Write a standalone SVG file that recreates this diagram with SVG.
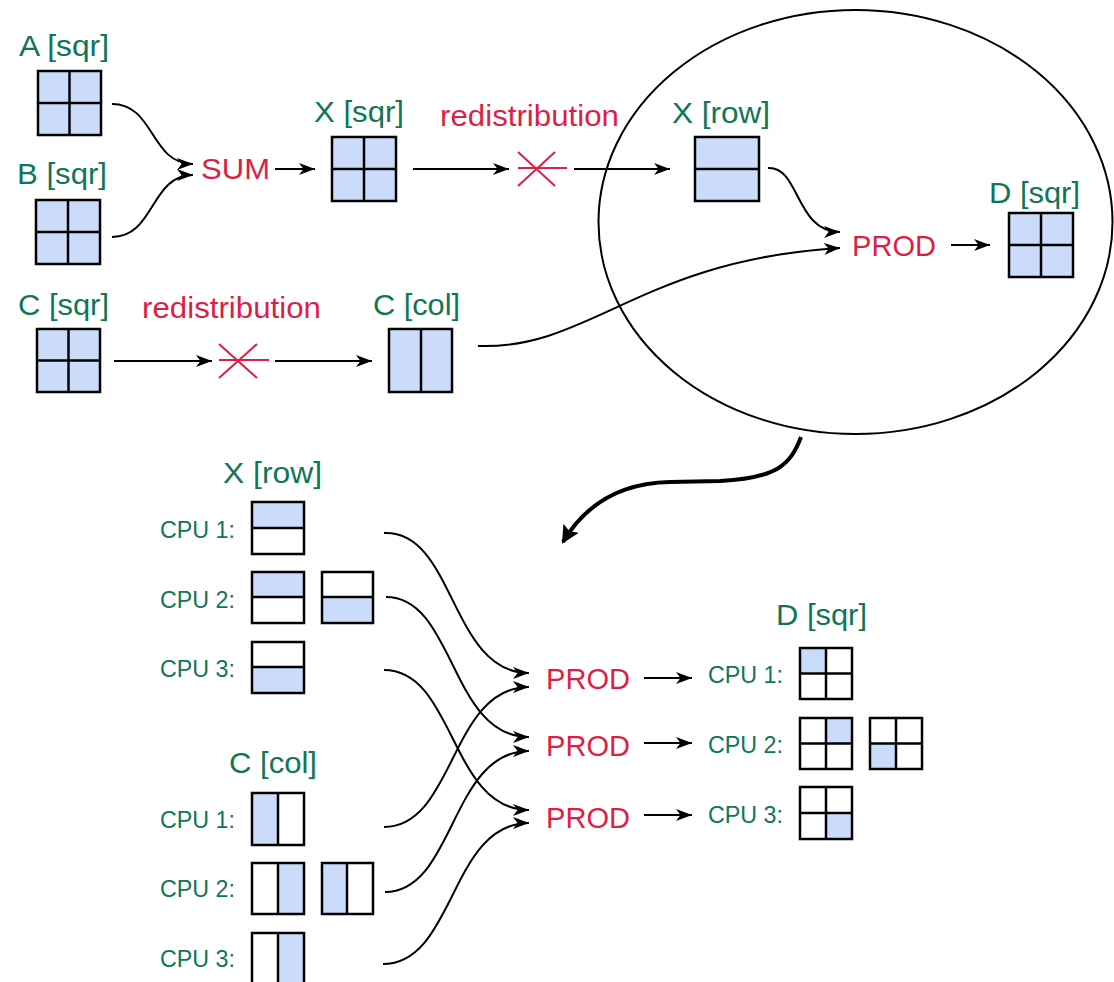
<svg xmlns="http://www.w3.org/2000/svg" width="1114" height="982" viewBox="0 0 1114 982">
  <style>
    .lbl { font-family: "Liberation Sans", Arial, sans-serif; font-size: 30px; fill: #0f7656; text-anchor: middle; }
    .op { font-family: "Liberation Sans", Arial, sans-serif; font-size: 30px; fill: #dc1f45; text-anchor: middle; }
    .cpu { font-family: "Liberation Sans", Arial, sans-serif; font-size: 23.5px; fill: #0f7656; }
    .box { fill: none; stroke: #000; stroke-width: 2.5; }
    .blue { fill: #cbdcfa; }
    .div { stroke: #000; stroke-width: 2.5; }
    .conn { fill: none; stroke: #000; stroke-width: 2; }
    .cross { stroke: #dc1f45; stroke-width: 2; }
  </style>
  <defs>
    <marker id="arr" markerUnits="userSpaceOnUse" markerWidth="18" markerHeight="14" refX="16" refY="6" orient="auto">
      <path d="M0,0 L16,6 L0,12 L4.5,6 z" fill="#000"/>
    </marker>
    <marker id="bigarr" markerUnits="userSpaceOnUse" markerWidth="20" markerHeight="20" refX="16" refY="9" orient="auto">
      <path d="M0,0 L18,9 L0,18 L3.5,9 z" fill="#000"/>
    </marker>
  </defs>

  <!-- scope of the PROD step -->
  <ellipse id="scope" cx="855.5" cy="222" rx="257" ry="212" fill="none" stroke="#000" stroke-width="2"/>

  <!-- A [sqr] -->
  <g id="A-sqr">
    <text class="lbl" x="64" y="56" textLength="90" lengthAdjust="spacingAndGlyphs">A [sqr]</text>
    <rect class="blue" x="38" y="71" width="63" height="64"/>
    <line class="div" x1="69.5" y1="71" x2="69.5" y2="135"/>
    <line class="div" x1="38" y1="103" x2="101" y2="103"/>
    <rect class="box" x="38" y="71" width="63" height="64"/>
  </g>

  <!-- B [sqr] -->
  <g id="B-sqr">
    <text class="lbl" x="62" y="184" textLength="90" lengthAdjust="spacingAndGlyphs">B [sqr]</text>
    <rect class="blue" x="36" y="200" width="64" height="64"/>
    <line class="div" x1="68" y1="200" x2="68" y2="264"/>
    <line class="div" x1="36" y1="232" x2="100" y2="232"/>
    <rect class="box" x="36" y="200" width="64" height="64"/>
  </g>

  <!-- SUM -->
  <g id="sum">
    <text class="op" x="235.5" y="179" textLength="69" lengthAdjust="spacingAndGlyphs">SUM</text>
  </g>

  <!-- X [sqr] -->
  <g id="X-sqr">
    <text class="lbl" x="359" y="122" textLength="90" lengthAdjust="spacingAndGlyphs">X [sqr]</text>
    <rect class="blue" x="332" y="137" width="64" height="64"/>
    <line class="div" x1="364" y1="137" x2="364" y2="201"/>
    <line class="div" x1="332" y1="169" x2="396" y2="169"/>
    <rect class="box" x="332" y="137" width="64" height="64"/>
  </g>

  <!-- redistribution X -->
  <g id="redist-x">
    <text class="op" x="529.5" y="126" textLength="179" lengthAdjust="spacingAndGlyphs">redistribution</text>
    <line class="cross" x1="518" y1="168" x2="567" y2="168"/>
    <line class="cross" x1="518" y1="152" x2="555" y2="186"/>
    <line class="cross" x1="555" y1="152" x2="518" y2="186"/>
  </g>

  <!-- X [row] -->
  <g id="X-row">
    <text class="lbl" x="721" y="123" textLength="98" lengthAdjust="spacingAndGlyphs">X [row]</text>
    <rect class="blue" x="695" y="137" width="64" height="64"/>
    <line class="div" x1="695" y1="169" x2="759" y2="169"/>
    <rect class="box" x="695" y="137" width="64" height="64"/>
  </g>

  <!-- PROD -->
  <g id="prod">
    <text class="op" x="894" y="256" textLength="84" lengthAdjust="spacingAndGlyphs">PROD</text>
  </g>

  <!-- D [sqr] -->
  <g id="D-sqr">
    <text class="lbl" x="1034.5" y="203" textLength="91" lengthAdjust="spacingAndGlyphs">D [sqr]</text>
    <rect class="blue" x="1009" y="213" width="64" height="64"/>
    <line class="div" x1="1041" y1="213" x2="1041" y2="277"/>
    <line class="div" x1="1009" y1="245" x2="1073" y2="245"/>
    <rect class="box" x="1009" y="213" width="64" height="64"/>
  </g>

  <!-- C [sqr] -->
  <g id="C-sqr">
    <text class="lbl" x="63.5" y="315" textLength="91" lengthAdjust="spacingAndGlyphs">C [sqr]</text>
    <rect class="blue" x="37" y="329" width="63" height="63"/>
    <line class="div" x1="68.5" y1="329" x2="68.5" y2="392"/>
    <line class="div" x1="37" y1="360.5" x2="100" y2="360.5"/>
    <rect class="box" x="37" y="329" width="63" height="63"/>
  </g>

  <!-- redistribution C -->
  <g id="redist-c">
    <text class="op" x="231.5" y="318" textLength="179" lengthAdjust="spacingAndGlyphs">redistribution</text>
    <line class="cross" x1="219" y1="360" x2="269" y2="360"/>
    <line class="cross" x1="219" y1="344" x2="257" y2="378"/>
    <line class="cross" x1="257" y1="344" x2="219" y2="378"/>
  </g>

  <!-- C [col] -->
  <g id="C-col">
    <text class="lbl" x="416.5" y="315" textLength="87" lengthAdjust="spacingAndGlyphs">C [col]</text>
    <rect class="blue" x="389" y="329" width="63" height="63"/>
    <line class="div" x1="421" y1="329" x2="421" y2="392"/>
    <rect class="box" x="389" y="329" width="63" height="63"/>
  </g>

  <!-- distributed X [row] -->
  <g id="X-row-cpu">
    <text class="lbl" x="272.5" y="483" textLength="99" lengthAdjust="spacingAndGlyphs">X [row]</text>
    <text class="cpu" x="160" y="538" textLength="75" lengthAdjust="spacingAndGlyphs">CPU 1:</text>
    <text class="cpu" x="160" y="608" textLength="75" lengthAdjust="spacingAndGlyphs">CPU 2:</text>
    <text class="cpu" x="160" y="677" textLength="75" lengthAdjust="spacingAndGlyphs">CPU 3:</text>
    <rect class="blue" x="252" y="502" width="52" height="26"/>
    <line class="div" x1="252" y1="528" x2="304" y2="528"/>
    <rect class="box" x="252" y="502" width="52" height="52"/>
    <rect class="blue" x="252" y="572" width="52" height="25"/>
    <line class="div" x1="252" y1="597" x2="304" y2="597"/>
    <rect class="box" x="252" y="572" width="52" height="51"/>
    <rect class="blue" x="322" y="597" width="51" height="26"/>
    <line class="div" x1="322" y1="597" x2="373" y2="597"/>
    <rect class="box" x="322" y="572" width="51" height="51"/>
    <rect class="blue" x="252" y="667" width="52" height="26"/>
    <line class="div" x1="252" y1="667" x2="304" y2="667"/>
    <rect class="box" x="252" y="642" width="52" height="51"/>
  </g>

  <!-- distributed C [col] -->
  <g id="C-col-cpu">
    <text class="lbl" x="273" y="773" textLength="88" lengthAdjust="spacingAndGlyphs">C [col]</text>
    <text class="cpu" x="160" y="828" textLength="75" lengthAdjust="spacingAndGlyphs">CPU 1:</text>
    <text class="cpu" x="160" y="897" textLength="75" lengthAdjust="spacingAndGlyphs">CPU 2:</text>
    <text class="cpu" x="160" y="967" textLength="75" lengthAdjust="spacingAndGlyphs">CPU 3:</text>
    <rect class="blue" x="252" y="793" width="26" height="52"/>
    <line class="div" x1="278" y1="793" x2="278" y2="845"/>
    <rect class="box" x="252" y="793" width="52" height="52"/>
    <rect class="blue" x="278" y="863" width="26" height="51"/>
    <line class="div" x1="278" y1="863" x2="278" y2="914"/>
    <rect class="box" x="252" y="863" width="52" height="51"/>
    <rect class="blue" x="322" y="863" width="25" height="51"/>
    <line class="div" x1="347" y1="863" x2="347" y2="914"/>
    <rect class="box" x="322" y="863" width="51" height="51"/>
    <rect class="blue" x="278" y="933" width="26" height="52"/>
    <line class="div" x1="278" y1="933" x2="278" y2="985"/>
    <rect class="box" x="252" y="933" width="52" height="52"/>
  </g>

  <!-- per-CPU PROD steps -->
  <g id="prod-cpu">
    <text class="op" x="588" y="689" textLength="84" lengthAdjust="spacingAndGlyphs">PROD</text>
    <text class="op" x="588" y="756" textLength="84" lengthAdjust="spacingAndGlyphs">PROD</text>
    <text class="op" x="588" y="828" textLength="84" lengthAdjust="spacingAndGlyphs">PROD</text>
  </g>

  <!-- distributed D [sqr] -->
  <g id="D-sqr-cpu">
    <text class="lbl" x="821.5" y="625" textLength="91" lengthAdjust="spacingAndGlyphs">D [sqr]</text>
    <text class="cpu" x="708" y="683" textLength="75" lengthAdjust="spacingAndGlyphs">CPU 1:</text>
    <text class="cpu" x="708" y="753" textLength="75" lengthAdjust="spacingAndGlyphs">CPU 2:</text>
    <text class="cpu" x="708" y="823" textLength="75" lengthAdjust="spacingAndGlyphs">CPU 3:</text>
    <rect class="blue" x="800" y="648" width="26" height="25.5"/>
    <line class="div" x1="826" y1="648" x2="826" y2="699"/>
    <line class="div" x1="800" y1="673.5" x2="852" y2="673.5"/>
    <rect class="box" x="800" y="648" width="52" height="51"/>
    <rect class="blue" x="826" y="718" width="26" height="25.5"/>
    <line class="div" x1="826" y1="718" x2="826" y2="769"/>
    <line class="div" x1="800" y1="743.5" x2="852" y2="743.5"/>
    <rect class="box" x="800" y="718" width="52" height="51"/>
    <rect class="blue" x="870" y="743.5" width="26" height="25.5"/>
    <line class="div" x1="896" y1="718" x2="896" y2="769"/>
    <line class="div" x1="870" y1="743.5" x2="922" y2="743.5"/>
    <rect class="box" x="870" y="718" width="52" height="51"/>
    <rect class="blue" x="826" y="813" width="26" height="26"/>
    <line class="div" x1="826" y1="787" x2="826" y2="839"/>
    <line class="div" x1="800" y1="813" x2="852" y2="813"/>
    <rect class="box" x="800" y="787" width="52" height="52"/>
  </g>

  <!-- connectors -->
  <g id="connectors">
    <path class="conn" d="M112,104 C155,104 150,164 193,164" marker-end="url(#arr)"/>
    <path class="conn" d="M112,237 C155,237 150,175 193,175" marker-end="url(#arr)"/>
    <line class="conn" x1="275" y1="169" x2="315" y2="169" marker-end="url(#arr)"/>
    <line class="conn" x1="413" y1="169" x2="509" y2="169" marker-end="url(#arr)"/>
    <line class="conn" x1="574" y1="169" x2="670" y2="169" marker-end="url(#arr)"/>
    <path class="conn" d="M768,168 C800,166 795,232 840,232" marker-end="url(#arr)"/>
    <path class="conn" d="M478,346 C590,350 640,260 840,248" marker-end="url(#arr)"/>
    <line class="conn" x1="951" y1="245" x2="990" y2="245" marker-end="url(#arr)"/>
    <line class="conn" x1="114" y1="361" x2="212" y2="361" marker-end="url(#arr)"/>
    <line class="conn" x1="275" y1="361" x2="372" y2="361" marker-end="url(#arr)"/>

    <path d="M801,437 C790,466 776,478 720,481 L670,482 C620,483 585,505 563,542" fill="none" stroke="#000" stroke-width="4" marker-end="url(#bigarr)"/>

    <path class="conn" d="M384,533 C455,530 450,673 529,673" marker-end="url(#arr)"/>
    <path class="conn" d="M386,597 C455,597 450,737 529,737" marker-end="url(#arr)"/>
    <path class="conn" d="M384,670 C455,670 450,810 529,810" marker-end="url(#arr)"/>
    <path class="conn" d="M384,827 C455,827 450,687 529,687" marker-end="url(#arr)"/>
    <path class="conn" d="M385,892 C455,892 450,751 529,751" marker-end="url(#arr)"/>
    <path class="conn" d="M383,964 C455,964 450,823 529,823" marker-end="url(#arr)"/>

    <line class="conn" x1="644" y1="678" x2="692" y2="678" marker-end="url(#arr)"/>
    <line class="conn" x1="644" y1="743" x2="692" y2="743" marker-end="url(#arr)"/>
    <line class="conn" x1="644" y1="815" x2="692" y2="815" marker-end="url(#arr)"/>
  </g>
</svg>
